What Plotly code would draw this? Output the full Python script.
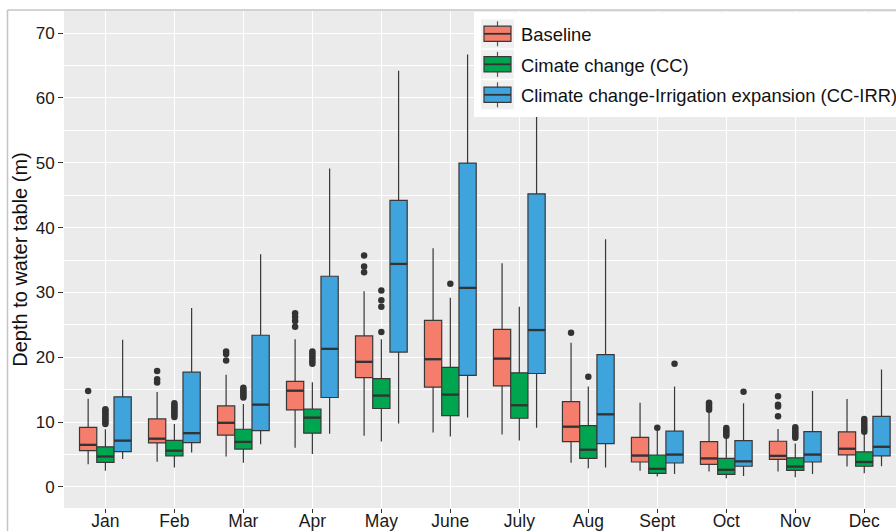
import plotly.graph_objects as go

# Monthly depth to water table (m) under three scenarios
months = ["Jan", "Feb", "Mar", "Apr", "May", "June", "July", "Aug", "Sept", "Oct", "Nov", "Dec"]

series_names = ["Baseline", "Cimate change (CC)", "Climate change-Irrigation expansion (CC-IRR)"]

# Baseline
base_lo = [3.5, 3.9, 4.7, 6.05, 7.9, 8.4, 8.1, 3.75, 2.5, 2.4, 2.4, 3.15]
base_q1 = [5.6, 6.8, 8.0, 11.9, 16.85, 15.4, 15.6, 7.0, 3.85, 3.5, 4.25, 4.95]
base_med = [6.5, 7.45, 9.9, 14.85, 19.3, 19.7, 19.8, 9.3, 4.85, 4.4, 4.8, 5.9]
base_q3 = [9.2, 10.5, 12.5, 16.3, 23.3, 25.7, 24.3, 13.15, 7.65, 7.0, 7.05, 8.5]
base_hi = [13.6, 14.65, 17.3, 22.8, 30.2, 36.8, 34.5, 22.25, 13.0, 11.6, 8.95, 13.55]
base_out = [[14.8], [16.1, 16.6, 17.9], [19.5, 20.5, 20.9], [24.7, 25.6, 26.2, 26.8],
            [33.1, 34.0, 35.7], [], [], [23.8], [], [11.9, 12.2, 12.5, 12.8, 13.0],
            [10.9, 12.4, 12.7, 14.0], []]

# Climate change (CC)
cc_lo = [2.5, 3.0, 3.75, 5.1, 7.0, 7.8, 7.15, 2.9, 1.6, 1.35, 1.5, 2.1]
cc_q1 = [3.8, 4.8, 5.85, 8.3, 12.1, 11.0, 10.6, 4.4, 2.1, 1.95, 2.55, 3.2]
cc_med = [4.7, 5.6, 6.95, 10.7, 14.1, 14.25, 12.6, 5.75, 2.8, 2.65, 3.15, 3.85]
cc_q3 = [6.2, 7.2, 8.9, 12.0, 16.7, 18.45, 17.6, 9.45, 4.9, 4.4, 4.5, 5.4]
cc_hi = [8.9, 9.7, 12.8, 16.15, 22.8, 29.2, 27.8, 15.5, 8.8, 7.65, 6.7, 8.1]
cc_out = [[9.7, 10.0, 10.3, 10.6, 10.9, 11.2, 11.5, 11.8, 12.0],
          [10.8, 11.1, 11.4, 11.7, 12.0, 12.3, 12.6, 12.9],
          [13.8, 14.1, 14.4, 14.7, 15.0, 15.3],
          [19.0, 19.4, 19.8, 20.2, 20.6, 20.9],
          [23.9, 27.8, 28.8, 30.3], [31.35], [], [17.0], [9.15],
          [7.9, 8.2, 8.5, 8.8, 9.1],
          [7.6, 7.9, 8.2, 8.5, 8.9, 9.2],
          [8.5, 8.9, 9.3, 9.7, 10.1, 10.5]]

# Climate change with irrigation expansion (CC-IRR)
irr_lo = [4.3, 5.3, 6.6, 8.2, 9.8, 10.7, 9.15, 3.0, 2.0, 1.7, 2.0, 3.2]
irr_q1 = [5.45, 6.85, 8.7, 13.8, 20.8, 17.2, 17.5, 6.7, 3.7, 3.2, 3.85, 4.8]
irr_med = [7.15, 8.3, 12.7, 21.3, 34.4, 30.7, 24.2, 11.2, 5.0, 3.95, 5.0, 6.2]
irr_q3 = [13.9, 17.7, 23.4, 32.5, 44.2, 49.95, 45.2, 20.4, 8.6, 7.15, 8.55, 10.9]
irr_hi = [22.7, 27.6, 35.9, 49.1, 64.2, 66.7, 68.0, 38.2, 15.5, 12.9, 14.8, 18.1]
irr_out = [[], [], [], [], [], [], [], [], [19.0], [14.7], [], []]

fill_colors = ["#F47D6C", "#00A54F", "#3FA3DC"]

stats = [
    (base_lo, base_q1, base_med, base_q3, base_hi, base_out),
    (cc_lo, cc_q1, cc_med, cc_q3, cc_hi, cc_out),
    (irr_lo, irr_q1, irr_med, irr_q3, irr_hi, irr_out),
]

FONT = "Liberation Sans, Arial, sans-serif"
EDGE = "#383838"
box_w = 0.25
offsets = [-box_w, 0.0, box_w]

# figure / plot-area geometry (pixels)
W, H = 896, 531
ML, MR, MT, MB = 64, 0, 11, 23
PW, PH = W - ML - MR, H - MT - MB


def px(x):
    return (x - ML) / PW


def py(y):
    return (H - MB - y) / PH


fig = go.Figure()

for k, (lo, q1, med, q3, hi, outs) in enumerate(stats):
    xs = [i + 1 + offsets[k] for i in range(len(months))]
    fig.add_trace(go.Box(
        name=series_names[k],
        x=xs, q1=q1, median=med, q3=q3, lowerfence=lo, upperfence=hi,
        width=box_w, whiskerwidth=0, boxpoints=False,
        fillcolor=fill_colors[k],
        line=dict(color=EDGE, width=1.2),
        showlegend=False, hoverinfo="skip",
    ))

for k, (lo, q1, med, q3, hi, outs) in enumerate(stats):
    xs = [i + 1 + offsets[k] for i in range(len(months))]
    # thicker median bars
    mx, my = [], []
    for x, m in zip(xs, med):
        mx += [x - box_w / 2, x + box_w / 2, None]
        my += [m, m, None]
    fig.add_trace(go.Scatter(x=mx, y=my, mode="lines",
                             line=dict(color="#333333", width=2.3),
                             showlegend=False, hoverinfo="skip"))
    # outlying points
    ox, oy = [], []
    for x, vals in zip(xs, outs):
        ox += [x] * len(vals)
        oy += vals
    fig.add_trace(go.Scatter(x=ox, y=oy, mode="markers",
                             marker=dict(color="#333333", size=6.5),
                             showlegend=False, hoverinfo="skip"))

shapes = []
annotations = []

# outer frame lines
shapes.append(dict(type="line", xref="paper", yref="paper",
                   x0=px(7.5), x1=px(7.5), y0=py(10), y1=py(560),
                   line=dict(color="#C4C4C4", width=1.5)))
shapes.append(dict(type="line", xref="paper", yref="paper",
                   x0=px(7.5), x1=px(920), y0=py(10), y1=py(10),
                   line=dict(color="#C4C4C4", width=1.5)))

# legend panel with box-style keys
shapes.append(dict(type="rect", xref="paper", yref="paper", layer="above",
                   x0=px(474), x1=px(920), y0=py(12), y1=py(117),
                   fillcolor="white", line=dict(width=0)))
key_centers = [33.8, 64.3, 94.8]
for k, cy in enumerate(key_centers):
    shapes.append(dict(type="rect", xref="paper", yref="paper", layer="above",
                       x0=px(481), x1=px(514), y0=py(cy - 14.5), y1=py(cy + 14.5),
                       fillcolor="#F0F0F0", line=dict(width=0)))
    shapes.append(dict(type="line", xref="paper", yref="paper", layer="above",
                       x0=px(497.5), x1=px(497.5), y0=py(cy - 12.5), y1=py(cy + 12.5),
                       line=dict(color="#555555", width=1.2)))
    shapes.append(dict(type="rect", xref="paper", yref="paper", layer="above",
                       x0=px(484), x1=px(511), y0=py(cy - 7.6), y1=py(cy + 7.6),
                       fillcolor=fill_colors[k], line=dict(color=EDGE, width=1.2)))
    shapes.append(dict(type="line", xref="paper", yref="paper", layer="above",
                       x0=px(484), x1=px(511), y0=py(cy), y1=py(cy),
                       line=dict(color="#333333", width=1.8)))
    annotations.append(dict(text=series_names[k], xref="paper", yref="paper",
                            x=px(518.5), y=py(cy + 0.8), xanchor="left", yanchor="middle",
                            showarrow=False,
                            font=dict(family=FONT, size=18.4, color="#111111")))

fig.update_layout(
    width=W, height=H,
    margin=dict(l=ML, r=MR, t=MT, b=MB, autoexpand=False),
    paper_bgcolor="white",
    plot_bgcolor="#EBEBEB",
    font=dict(family=FONT, color="#1A1A1A"),
    showlegend=False,
    shapes=shapes,
    annotations=annotations,
    xaxis=dict(
        range=[0.4, 12.46], automargin=False,
        tickmode="array", tickvals=list(range(1, 13)), ticktext=months,
        ticks="outside", ticklen=4, tickcolor="#333333", tickwidth=1,
        ticklabelstandoff=-7,
        showgrid=True, gridcolor="white", gridwidth=1.3,
        zeroline=False, showline=False,
        tickfont=dict(family=FONT, size=17.5, color="#1A1A1A"),
    ),
    yaxis=dict(
        range=[-3.24, 73.4], automargin=False,
        tickmode="linear", tick0=0, dtick=10,
        ticks="outside", ticklen=5, tickcolor="#333333", tickwidth=1,
        showgrid=True, gridcolor="white", gridwidth=1.3,
        minor=dict(dtick=5, showgrid=True, gridcolor="white", gridwidth=0.7),
        zeroline=False, showline=False,
        tickfont=dict(family=FONT, size=17, color="#1A1A1A"),
        title=dict(text="Depth to water table (m)", standoff=2,
                   font=dict(family=FONT, size=20, color="#111111")),
    ),
)

fig.write_html("out.html")
